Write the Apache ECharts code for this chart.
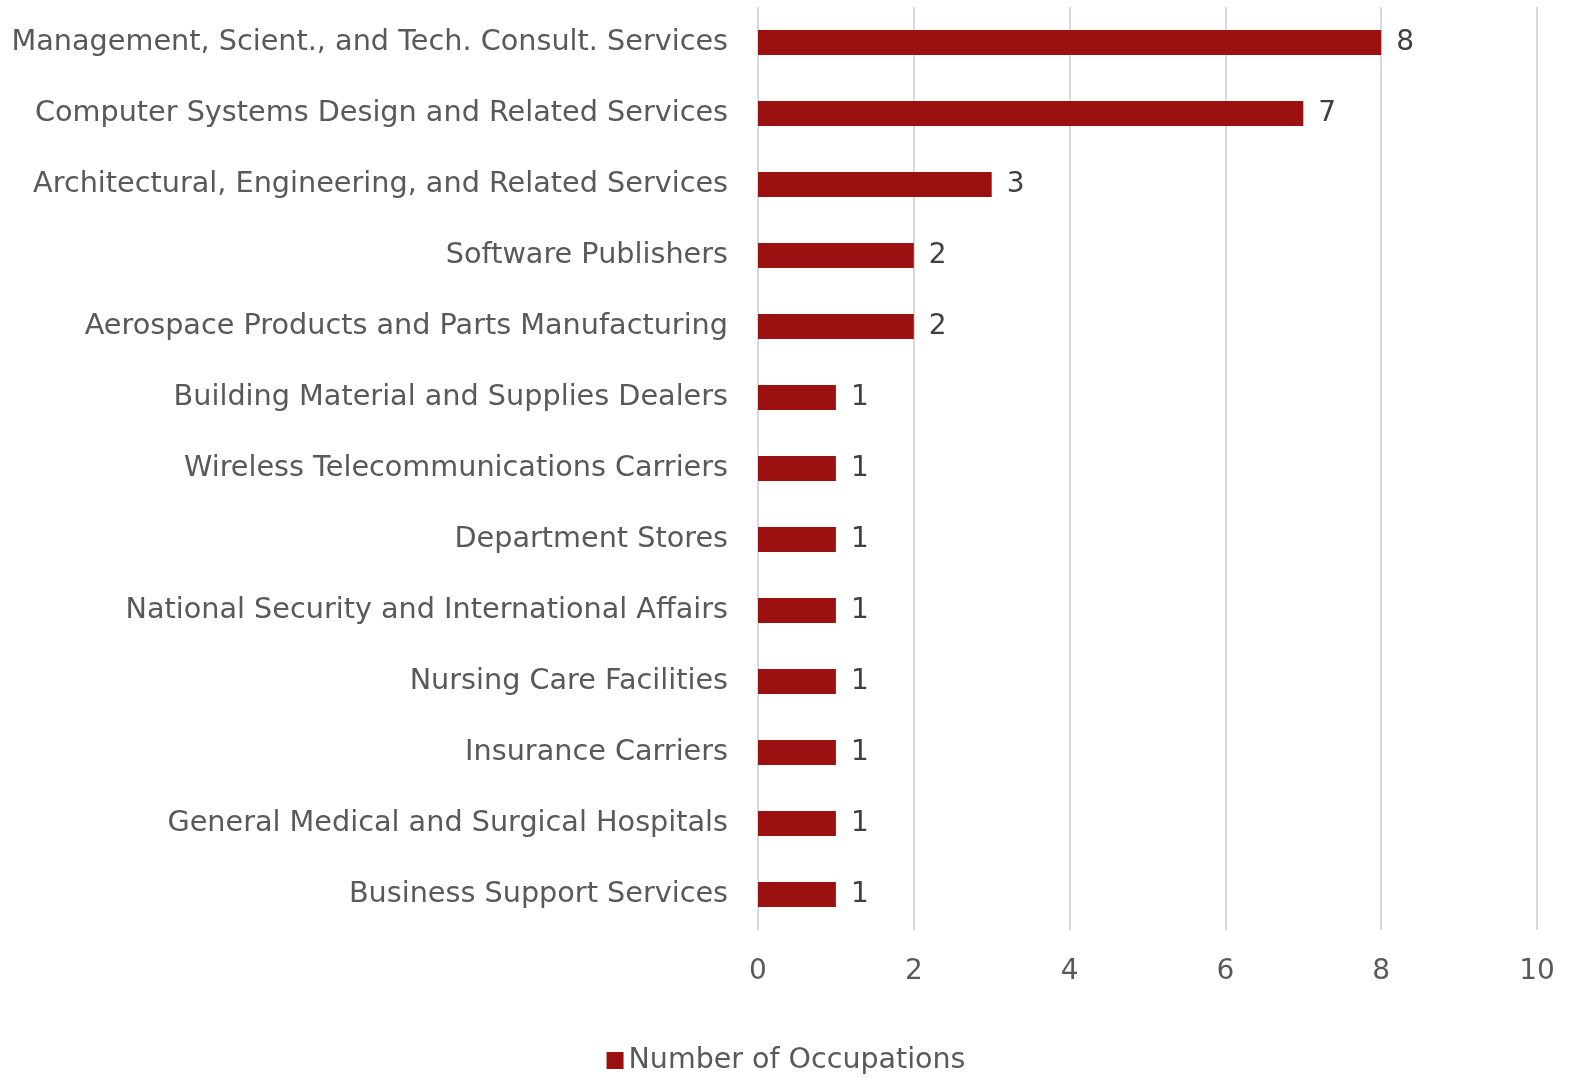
<!DOCTYPE html>
<html>
<head>
<meta charset="utf-8">
<script src="https://cdn.jsdelivr.net/npm/echarts@6/dist/echarts.min.js"></script>
<style>
  html, body { margin: 0; padding: 0; background: #fff; }
  #chart { width: 1572px; height: 1078px; }
</style>
</head>
<body>
<div id="chart"></div>
<script>
// categories, top to bottom
const industries = [
  'Management, Scient., and Tech. Consult. Services',
  'Computer Systems Design and Related Services',
  'Architectural, Engineering, and Related Services',
  'Software Publishers',
  'Aerospace Products and Parts Manufacturing',
  'Building Material and Supplies Dealers',
  'Wireless Telecommunications Carriers',
  'Department Stores',
  'National Security and International Affairs',
  'Nursing Care Facilities',
  'Insurance Carriers',
  'General Medical and Surgical Hospitals',
  'Business Support Services'
];
const occupations = [8, 7, 3, 2, 2, 1, 1, 1, 1, 1, 1, 1, 1];
const seriesName = 'Number of Occupations';

const font = '"DejaVu Sans", sans-serif';

const myChart = echarts.init(document.getElementById('chart'));

const option = {
  animation: false,
  textStyle: { fontFamily: font },
  grid: { left: 758, right: 35, top: 7, bottom: 148, containLabel: false },
  legend: {
    bottom: -2,
    left: 'center',
    itemWidth: 17,
    itemHeight: 17,
    itemGap: 6,
    icon: 'rect',
    textStyle: { fontFamily: font, fontSize: 28.5, color: '#595959' },
    data: [seriesName]
  },
  xAxis: {
    type: 'value',
    min: 0,
    max: 10,
    interval: 2,
    axisLine: { show: false },
    axisTick: { show: false },
    splitLine: { lineStyle: { color: '#d9d9d9', width: 2 } },
    axisLabel: { fontFamily: font, fontSize: 28, color: '#595959', margin: 28 }
  },
  yAxis: {
    type: 'category',
    inverse: true,
    data: industries,
    axisLine: { show: false },
    axisTick: { show: false },
    axisLabel: { fontFamily: font, fontSize: 28.7, color: '#595959', margin: 30 }
  },
  series: [
    {
      name: seriesName,
      type: 'bar',
      data: occupations,
      barWidth: 25,
      itemStyle: { color: '#9b1010' },
      label: {
        show: true,
        position: 'right',
        distance: 15,
        fontFamily: font,
        fontSize: 28,
        color: '#404040'
      }
    }
  ]
};

myChart.setOption(option);
</script>
</body>
</html>
